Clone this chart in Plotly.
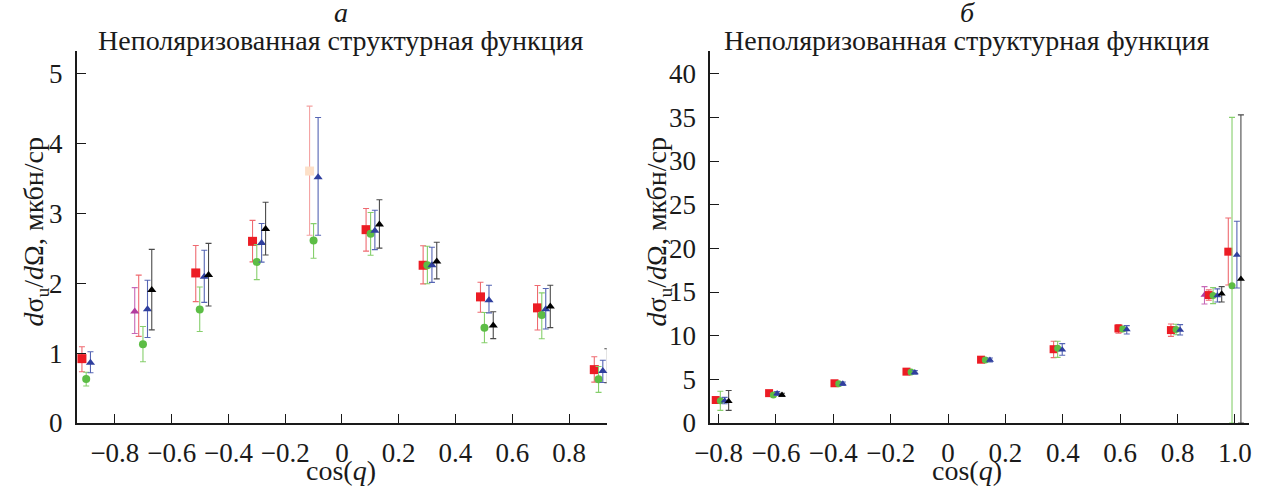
import plotly.graph_objects as go

# ---------------- Panel a (left) ----------------
a_red_x = [-0.916, -0.515, -0.315, 0.085, 0.286, 0.488, 0.689, 0.889]
a_red_y = [0.92, 2.145, 2.597, 2.764, 2.255, 1.803, 1.646, 0.763]
a_red_top = [1.09, 2.537, 2.897, 3.066, 2.533, 2.012, 1.965, 0.947]
a_red_bot = [0.733, 1.735, 2.303, 2.457, 1.989, 1.584, 1.33, 0.585]

a_redhid_x = [-0.716]
a_redhid_y = [1.675]
a_redhid_top = [2.114]
a_redhid_bot = [1.238]

a_redfaint_x = [-0.114]
a_redfaint_y = [3.602]
a_redfaint_top = [4.53]
a_redfaint_bot = [2.684]

a_green_x = [-0.901, -0.701, -0.501, -0.300, -0.100, 0.101, 0.301, 0.502, 0.704, 0.904]
a_green_y = [0.628, 1.127, 1.623, 2.303, 2.61, 2.707, 2.255, 1.361, 1.544, 0.624]
a_green_top = [0.725, 1.379, 1.945, 2.55, 2.85, 3.01, 2.527, 1.58, 1.86, 0.807]
a_green_bot = [0.528, 0.875, 1.308, 2.05, 2.355, 2.398, 1.99, 1.147, 1.204, 0.438]

a_blue_x = [-0.886, -0.685, -0.485, -0.283, -0.084, 0.116, 0.317, 0.518, 0.718, 0.919]
a_blue_y = [0.861, 1.626, 2.091, 2.574, 3.514, 2.747, 2.255, 1.755, 1.627, 0.742]
a_blue_top = [1.018, 2.04, 2.47, 2.852, 4.368, 3.042, 2.512, 1.97, 1.922, 0.897]
a_blue_bot = [0.718, 1.222, 1.725, 2.30, 2.683, 2.479, 2.01, 1.575, 1.344, 0.58]

a_black_x = [-0.670, -0.470, -0.269, 0.132, 0.334, 0.533, 0.734, 0.935]
a_black_y = [1.902, 2.115, 2.774, 2.838, 2.31, 1.394, 1.665, 0.813]
a_black_top = [2.482, 2.568, 3.156, 3.192, 2.583, 1.59, 1.97, 1.061]
a_black_bot = [1.331, 1.672, 2.402, 2.50, 2.06, 1.206, 1.363, 0.575]

a_mag_x = [-0.730]
a_mag_y = [1.593]
a_mag_top = [1.935]
a_mag_bot = [1.279]

# ---------------- Panel б (right) ----------------
b_red_x = [-0.810, -0.624, -0.396, -0.145, 0.115, 0.368, 0.594, 0.777, 0.909, 0.977]
b_red_y = [2.63, 3.42, 4.55, 5.88, 7.25, 8.45, 10.82, 10.64, 14.65, 19.62]
b_red_top = [2.9, 3.65, 4.75, 6.1, 7.45, 9.36, 11.27, 11.33, 15.25, 23.48]
b_red_bot = [2.35, 3.2, 4.35, 5.65, 7.05, 7.49, 10.28, 9.92, 14.05, 15.8]

b_green_x = [-0.794, -0.609, -0.381, -0.129, 0.130, 0.382, 0.609, 0.795, 0.924, 0.990]
b_green_y = [2.55, 3.22, 4.5, 5.83, 7.22, 8.55, 10.77, 10.72, 14.6, 15.73]
b_green_top = [3.63, 3.4, 4.7, 6.0, 7.4, 9.36, 11.0, 11.3, 15.5, 35.0]
b_green_bot = [1.45, 3.05, 4.3, 5.65, 7.05, 7.52, 10.5, 10.1, 13.67, 0.0]

b_blue_x = [-0.779, -0.596, -0.367, -0.116, 0.146, 0.398, 0.623, 0.809, 0.939, 1.007]
b_blue_y = [2.55, 3.38, 4.5, 5.79, 7.22, 8.38, 10.72, 10.66, 14.6, 19.25]
b_blue_top = [2.93, 3.6, 4.7, 6.0, 7.45, 9.09, 11.15, 11.26, 15.36, 23.1]
b_blue_bot = [2.2, 3.15, 4.3, 5.6, 7.0, 7.75, 10.2, 10.08, 13.86, 15.46]

b_black_x = [-0.765, -0.579, 0.954, 1.021]
b_black_y = [2.48, 3.22, 14.8, 16.5]
b_black_top = [3.72, 3.4, 15.62, 35.28]
b_black_bot = [1.45, 3.05, 13.86, 0.0]

b_mag_x = [0.894]
b_mag_y = [14.66]
b_mag_top = [15.62]
b_mag_bot = [13.63]

# ---------------- Ticks / text ----------------
a_xticks = [-0.8, -0.6, -0.4, -0.2, 0, 0.2, 0.4, 0.6, 0.8]
a_xticklabels = ["\u22120.8", "\u22120.6", "\u22120.4", "\u22120.2", "0", "0.2", "0.4", "0.6", "0.8"]
a_yticks = [0, 1, 2, 3, 4, 5]
a_yticklabels = ["0", "1", "2", "3", "4", "5"]
b_xticks = [-0.8, -0.6, -0.4, -0.2, 0, 0.2, 0.4, 0.6, 0.8, 1.0]
b_xticklabels = ["\u22120.8", "\u22120.6", "\u22120.4", "\u22120.2", "0", "0.2", "0.4", "0.6", "0.8", "1.0"]
b_yticks = [0, 5, 10, 15, 20, 25, 30, 35, 40]
b_yticklabels = ["0", "5", "10", "15", "20", "25", "30", "35", "40"]

panel_letters = ["а", "б"]
panel_title = "Неполяризованная структурная функция"
x_title = "cos(<i>q</i>)"
y_title = "<i>d</i>σ<sub>u</sub>/<i>d</i>Ω, мкбн/ср"

FONT = "Liberation Serif"
TXT = "#1a1a1a"

fig = go.Figure()


def add(x, y, top, bot, symbol, mcolor, ecolor, size, xa, ya, mopacity=1.0):
    plus = [t - v for t, v in zip(top, y)]
    minus = [v - b for v, b in zip(y, bot)]
    fig.add_trace(go.Scatter(
        x=x, y=y, mode="markers", xaxis=xa, yaxis=ya, cliponaxis=False,
        marker=dict(symbol=symbol, size=size, color=mcolor, opacity=mopacity,
                    line=dict(width=0)),
        error_y=dict(type="data", symmetric=False, array=plus, arrayminus=minus,
                     color=ecolor, thickness=1.1, width=3),
        showlegend=False, hoverinfo="skip"))


RED, RED_E = "#ec1c24", "#ef6a70"
GREEN, GREEN_E = "#5cbd45", "#86cf6c"
BLUE, BLUE_E = "#2f3f9e", "#5565b4"
BLACK, BLACK_E = "#000000", "#4a4a4a"
MAG, MAG_E = "#b23c9e", "#c768b6"

# panel a
add(a_redhid_x, a_redhid_y, a_redhid_top, a_redhid_bot, "square", RED, RED_E, 9, "x", "y", 0.0)
add(a_redfaint_x, a_redfaint_y, a_redfaint_top, a_redfaint_bot, "square", "#fde0c8", "#f4a3a3", 9, "x", "y")
add(a_mag_x, a_mag_y, a_mag_top, a_mag_bot, "triangle-up", MAG, MAG_E, 8, "x", "y")
add(a_red_x, a_red_y, a_red_top, a_red_bot, "square", RED, RED_E, 9, "x", "y")
add(a_green_x, a_green_y, a_green_top, a_green_bot, "circle", GREEN, GREEN_E, 8, "x", "y")
add(a_blue_x, a_blue_y, a_blue_top, a_blue_bot, "triangle-up", BLUE, BLUE_E, 8, "x", "y")
add(a_black_x, a_black_y, a_black_top, a_black_bot, "triangle-up", BLACK, BLACK_E, 8, "x", "y")

# panel б
add(b_mag_x, b_mag_y, b_mag_top, b_mag_bot, "triangle-up", MAG, MAG_E, 7, "x2", "y2")
add(b_red_x, b_red_y, b_red_top, b_red_bot, "square", RED, RED_E, 8, "x2", "y2")
add(b_green_x, b_green_y, b_green_top, b_green_bot, "circle", GREEN, GREEN_E, 7, "x2", "y2")
add(b_blue_x, b_blue_y, b_blue_top, b_blue_bot, "triangle-up", BLUE, BLUE_E, 7, "x2", "y2")
add(b_black_x, b_black_y, b_black_top, b_black_bot, "triangle-up", BLACK, BLACK_E, 7, "x2", "y2")

W, H = 1267, 488
TOP_PIX, BOT_PIX = 51, 423.3   # plot area top / bottom in window pixels


def ax(**kw):
    d = dict(showline=True, linecolor=TXT, linewidth=1.6, ticks="inside",
             ticklen=9, tickwidth=1.4, tickcolor=TXT, showgrid=False,
             zeroline=False, mirror=False, tickmode="array",
             tickfont=dict(family=FONT, size=27, color=TXT))
    d.update(kw)
    return d


fig.update_layout(
    width=W, height=H,
    margin=dict(l=0, r=0, t=TOP_PIX, b=H - BOT_PIX, pad=0),
    paper_bgcolor="white", plot_bgcolor="white",
    font=dict(family=FONT, color=TXT, size=27),
    xaxis=ax(domain=[61.7 / W, 599.3 / W], range=[-0.934, 0.933],
             tickvals=a_xticks, ticktext=a_xticklabels, anchor="y", ticklabelstandoff=5),
    yaxis=ax(domain=[0, 1], range=[0, 5.318], tickvals=a_yticks, ticktext=a_yticklabels,
             anchor="x", ticklabelstandoff=7),
    xaxis2=ax(domain=[704.3 / W, 1251 / W], range=[-0.829, 1.05],
              tickvals=b_xticks, ticktext=b_xticklabels, anchor="y2", ticklabelstandoff=5),
    yaxis2=ax(domain=[0, 1], range=[0, 42.6], tickvals=b_yticks, ticktext=b_yticklabels,
              anchor="x2", ticklabelstandoff=7),
)

plot_h = BOT_PIX - TOP_PIX


def ypaper(pix):
    return (BOT_PIX - pix) / plot_h


centers = [330, 965]
ytitle_x = [20, 652]
for i in range(2):
    fig.add_annotation(text="<i>" + panel_letters[i] + "</i>", x=centers[i] / W, y=ypaper(12),
                       xref="paper", yref="paper", showarrow=False, xanchor="center",
                       yanchor="middle", font=dict(family=FONT, size=28, color=TXT))
    fig.add_annotation(text=panel_title, x=centers[i] / W, y=ypaper(40),
                       xref="paper", yref="paper", showarrow=False, xanchor="center",
                       yanchor="middle", font=dict(family=FONT, size=28, color=TXT))
    fig.add_annotation(text=x_title, x=centers[i] / W, y=ypaper(471),
                       xref="paper", yref="paper", showarrow=False, xanchor="center",
                       yanchor="middle", font=dict(family=FONT, size=28, color=TXT))
    fig.add_annotation(text=y_title, x=ytitle_x[i] / W, y=ypaper(232),
                       xref="paper", yref="paper", showarrow=False, xanchor="center",
                       yanchor="middle", textangle=-90,
                       font=dict(family=FONT, size=28, color=TXT))

# remove the default page margin so the figure fills the window exactly
fig.write_html("out.html", config={"displayModeBar": False},
               post_script="document.body.style.margin='0';document.body.style.overflow='hidden';")
